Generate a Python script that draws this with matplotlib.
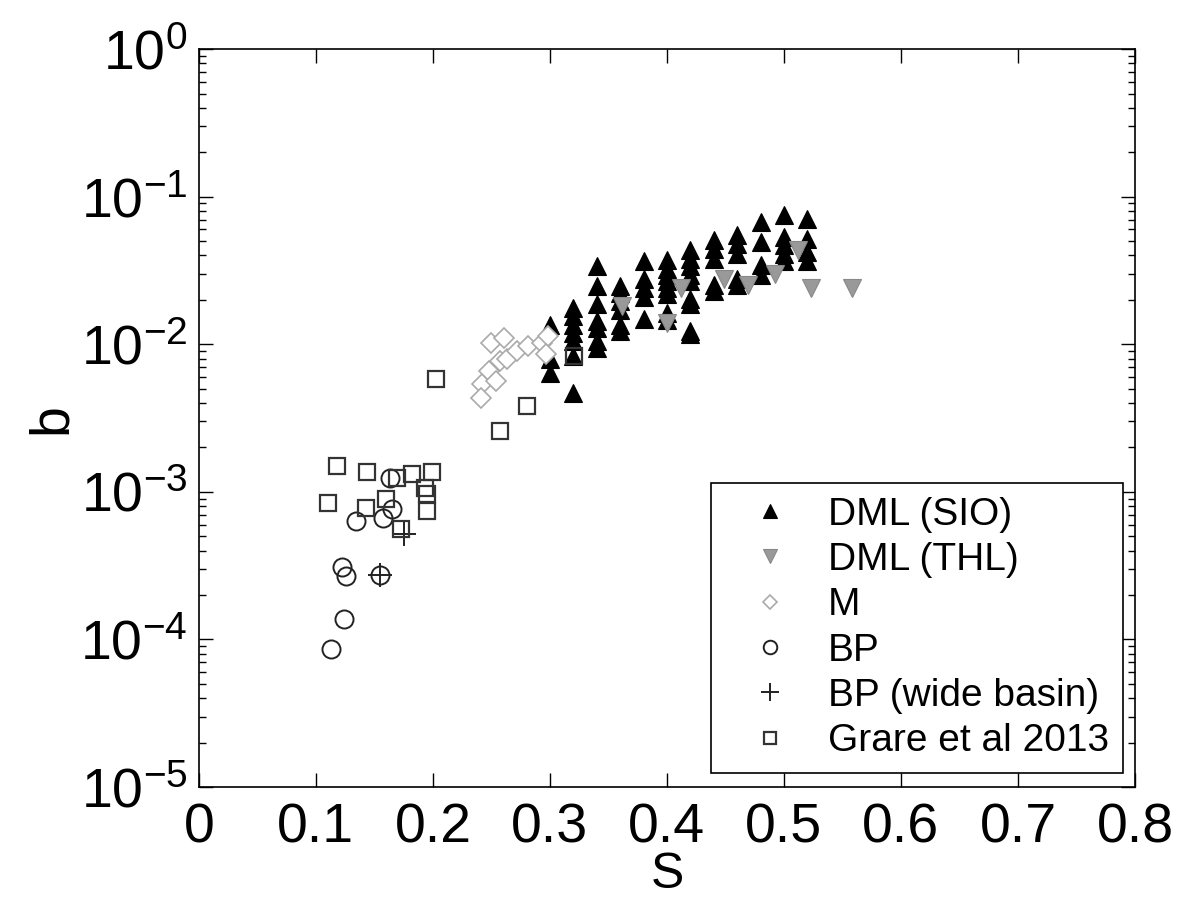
import numpy as np
import matplotlib
matplotlib.use("Agg")
import matplotlib.pyplot as plt
from matplotlib.ticker import LogLocator, NullFormatter, FixedLocator

plt.rcParams['font.family'] = ['Liberation Sans', 'DejaVu Sans']
plt.rcParams['mathtext.default'] = 'regular'

# DML (SIO) - black up triangles
sio_s = [0.30, 0.30, 0.30,
         0.32, 0.32, 0.32, 0.32, 0.32, 0.32, 0.32,
         0.34, 0.34, 0.34, 0.34, 0.34, 0.34, 0.34,
         0.36, 0.36, 0.36, 0.36, 0.36, 0.36,
         0.38, 0.38, 0.38, 0.38, 0.38,
         0.40, 0.40, 0.40, 0.40, 0.40, 0.40, 0.40, 0.40,
         0.42, 0.42, 0.42, 0.42, 0.42, 0.42, 0.42, 0.42, 0.42,
         0.44, 0.44, 0.44, 0.44, 0.44,
         0.46, 0.46, 0.46, 0.46, 0.46,
         0.48, 0.48, 0.48, 0.48,
         0.50, 0.50, 0.50, 0.50, 0.50,
         0.52, 0.52, 0.52, 0.52]
sio_b = [0.0136, 0.008, 0.0064,
         0.0175, 0.0155, 0.0136, 0.0119, 0.0105, 0.0083, 0.0047,
         0.0337, 0.0247, 0.0186, 0.0143, 0.0128, 0.0105, 0.0094,
         0.0247, 0.0221, 0.0195, 0.0172, 0.0136, 0.0123,
         0.0364, 0.0275, 0.024, 0.021, 0.0148,
         0.0375, 0.0326, 0.0297, 0.0267, 0.024, 0.0219, 0.0162, 0.0145,
         0.0438, 0.038, 0.0337, 0.0297, 0.0267, 0.0204, 0.0186, 0.0123, 0.0118,
         0.051, 0.0445, 0.038, 0.0254, 0.0228,
         0.0553, 0.048, 0.041, 0.0275, 0.0254,
         0.0678, 0.0497, 0.0347, 0.0297,
         0.0755, 0.0537, 0.0474, 0.041, 0.0364,
         0.071, 0.052, 0.0425, 0.0364]

# DML (THL) - grey down triangles
thl_s = [0.362, 0.400, 0.412, 0.449, 0.469, 0.492, 0.512, 0.523, 0.558]
thl_b = [0.0181, 0.0139, 0.024, 0.0275, 0.0254, 0.030, 0.0438, 0.024, 0.024]

# M - open light grey diamonds
m_s = [0.250, 0.261, 0.242, 0.241, 0.248, 0.254, 0.257, 0.263, 0.272, 0.281, 0.293, 0.298, 0.297]
m_b = [0.0102, 0.011, 0.0054, 0.0043, 0.0066, 0.0056, 0.0077, 0.008, 0.009, 0.0097, 0.0102, 0.0113, 0.0086]

# BP - open circles
bp_s = [0.163, 0.165, 0.134, 0.157, 0.122, 0.126, 0.155, 0.124, 0.113]
bp_b = [0.00124, 0.00076, 0.00063, 0.00066, 0.00031, 0.00027, 0.000274, 0.000138, 0.000086]

# BP (wide basin) - plus
wide_s = [0.155, 0.175]
wide_b = [0.000274, 0.00052]

# Grare et al 2013 - open squares
gr_s = [0.203, 0.257, 0.280, 0.321, 0.118, 0.144, 0.169, 0.182, 0.199,
        0.110, 0.143, 0.160, 0.193, 0.195, 0.195, 0.173]
gr_b = [0.0058, 0.0026, 0.0038, 0.0083, 0.0015, 0.00136, 0.00124, 0.00132, 0.00136,
        0.00084, 0.00078, 0.0009, 0.00106, 0.00097, 0.00074, 0.00056]

fig = plt.figure(figsize=(11.98, 9.01), dpi=100)
ax = fig.add_axes([0.166, 0.1265, 0.7814, 0.819])

ax.plot(sio_s, sio_b, '^', ms=13.5, mfc='black', mec='black', mew=0.8, ls='none', label='DML (SIO)')
ax.plot(thl_s, thl_b, 'v', ms=13.5, mfc='#999999', mec='#888888', mew=0.8, ls='none', label='DML (THL)')
ax.plot(m_s, m_b, 'D', ms=10, mfc='white', mec='#aaaaaa', mew=1.2, ls='none', label='M')
ax.plot(bp_s, bp_b, 'o', ms=13, mfc='none', mec='#222222', mew=1.4, ls='none', label='BP')
ax.plot(wide_s, wide_b, '+', ms=17, mec='#222222', mew=1.4, ls='none', label='BP (wide basin)')
ax.plot(gr_s, gr_b, 's', ms=11, mfc='none', mec='#333333', mew=1.6, ls='none', label='Grare et al 2013')

ax.set_yscale('log')
ax.set_xlim(0, 0.8)
ax.set_ylim(1e-5, 1)
ax.xaxis.set_major_locator(FixedLocator(np.arange(0, 0.81, 0.1)))
ax.set_xticklabels(['0', '0.1', '0.2', '0.3', '0.4', '0.5', '0.6', '0.7', '0.8'])
yt = [1e-5, 1e-4, 1e-3, 1e-2, 1e-1, 1e0]
ax.set_yticks(yt)
ax.set_yticklabels([r'$10^{%d}$' % int(np.log10(v)) for v in yt])
ax.yaxis.set_minor_locator(LogLocator(base=10, subs=np.arange(2, 10), numticks=20))
ax.yaxis.set_minor_formatter(NullFormatter())

ax.tick_params(which='both', direction='in', top=True, right=True, labelsize=40, width=1.0)
ax.tick_params(which='major', length=10)
ax.tick_params(which='minor', length=5)
ax.tick_params(axis='x', pad=11)
ax.tick_params(axis='y', pad=8)
for sp in ax.spines.values():
    sp.set_linewidth(1.2)

ax.set_xlabel('S', fontsize=36, labelpad=-2)
ax.set_ylabel('b', fontsize=40, labelpad=2)

leg = ax.legend(loc='lower right', bbox_to_anchor=(0.987, 0.019), fontsize=28,
                frameon=True, fancybox=False, framealpha=1, edgecolor='black',
                handletextpad=0.35, labelspacing=0.24, borderpad=0.35, handlelength=2.3,
                borderaxespad=0, markerscale=0.75)
leg.get_frame().set_linewidth(1.2)

fig.savefig('out.png', dpi=100)
